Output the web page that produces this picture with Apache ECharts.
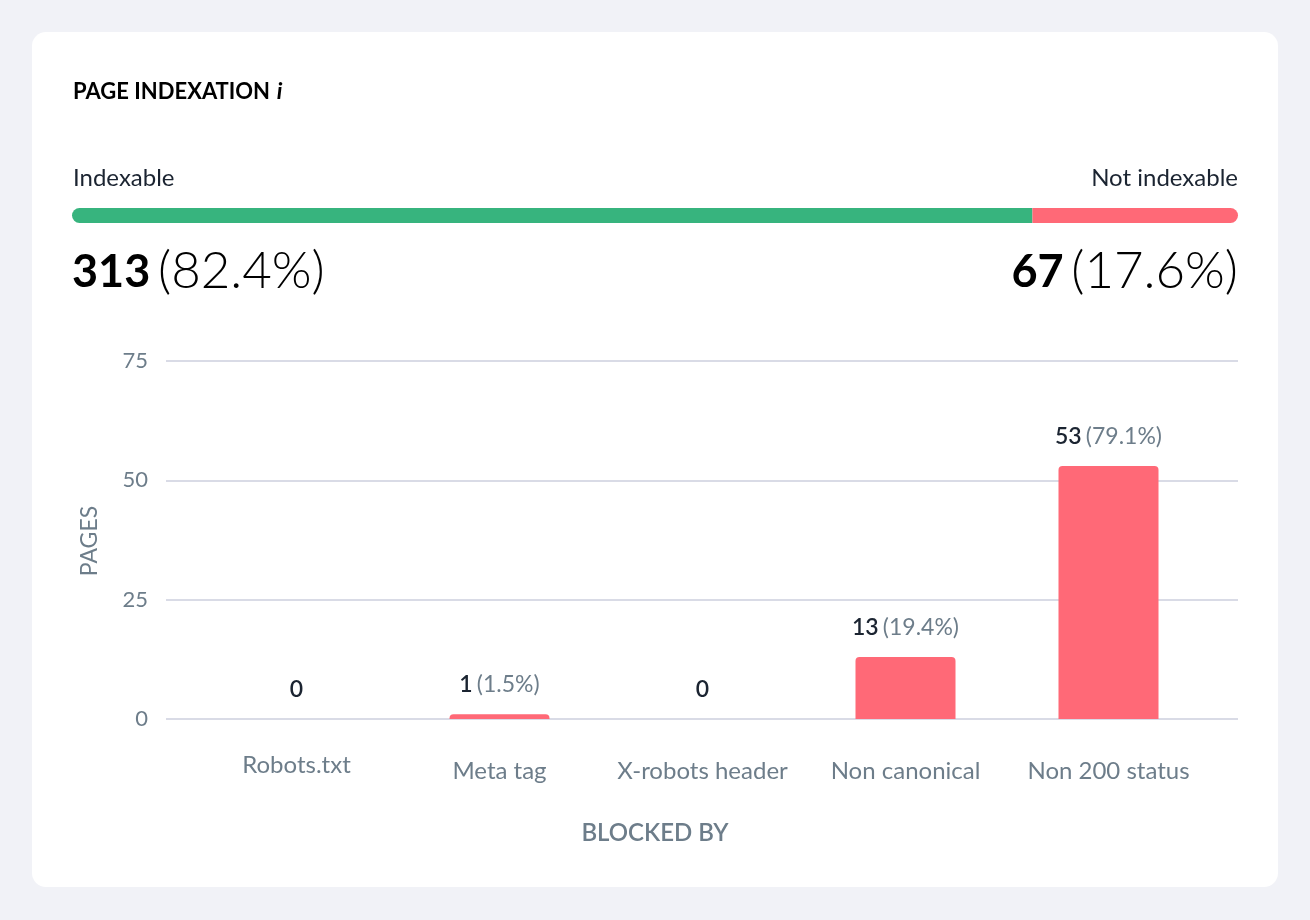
<!DOCTYPE html>
<html>
<head>
<meta charset="utf-8">
<script src="https://cdn.jsdelivr.net/npm/echarts@6/dist/echarts.min.js"></script>
<style>
html,body{margin:0;padding:0;background:#f1f2f7;}
#c{width:1310px;height:920px;}
</style>
</head>
<body>
<div id="c"></div>
<script>
// ---- data ----
const title = 'PAGE INDEXATION';
const indexLabels = ['Indexable', 'Not indexable'];
const indexCounts = [313, 67];
const categories = ['Robots.txt', 'Meta tag', 'X-robots header', 'Non canonical', 'Non 200 status'];
const blockedCounts = [0, 1, 0, 13, 53];
const yTicks = [0, 25, 50, 75];
const xAxisName = 'BLOCKED BY';
const yAxisName = 'PAGES';

// ---- styles ----
const FONT = 'Lato';
const DARK = '#1b2431';
const GRAY = '#6d7d8a';
const GREEN = '#37b47e';
const RED = '#ff6977';
const GRID = '#d9dbe6';

const total = indexCounts[0] + indexCounts[1];
const pct = v => (v / total * 100).toFixed(1) + '%';
const notIdx = indexCounts[1];

const chart = echarts.init(document.getElementById('c'), null, {renderer: 'canvas'});

const bigRich = {
  a: {fontFamily: FONT, fontWeight: 'bold', fontSize: 45, color: DARK},
  s: {fontFamily: FONT, fontSize: 30},
  b: {fontFamily: FONT, fontWeight: 300, fontSize: 51, color: GRAY}
};

const option = {
  backgroundColor: '#f1f2f7',
  animation: false,
  graphic: [
    {type: 'rect', shape: {x: 32, y: 32, width: 1246, height: 855, r: 14}, style: {fill: '#fff'}, z: -10},
    {type: 'text', x: 73, y: 92, style: {
      text: '{t|' + title + '}{s| }{i|i}', verticalAlign: 'middle',
      rich: {t: {fontFamily: FONT, fontWeight: 'bold', fontSize: 22, color: DARK},
             s: {fontFamily: FONT, fontSize: 26},
             i: {fontFamily: FONT, fontWeight: 'bold', fontStyle: 'italic', fontSize: 23, color: DARK}}
    }},
    {type: 'text', x: 73, y: 178, style: {text: indexLabels[0], fontFamily: FONT, fontSize: 24, fill: DARK, verticalAlign: 'middle'}},
    {type: 'text', x: 1238, y: 178, style: {text: indexLabels[1], fontFamily: FONT, fontSize: 24, fill: DARK, align: 'right', verticalAlign: 'middle'}},
    {type: 'text', x: 72, y: 272, style: {text: '{a|' + indexCounts[0] + '}{s| }{b|(' + pct(indexCounts[0]) + ')}', verticalAlign: 'middle', rich: bigRich}},
    {type: 'text', x: 1238, y: 272, style: {text: '{a|' + indexCounts[1] + '}{s| }{b|(' + pct(indexCounts[1]) + ')}', align: 'right', verticalAlign: 'middle', rich: bigRich}},
    {type: 'text', x: 90, y: 541, rotation: Math.PI / 2, style: {text: yAxisName, fontFamily: FONT, fontSize: 23, fill: GRAY, align: 'center', verticalAlign: 'middle'}},
    {type: 'text', x: 655, y: 833, style: {text: xAxisName, fontFamily: FONT, fontWeight: 600, fontSize: 24, fill: GRAY, align: 'center', verticalAlign: 'middle'}}
  ],
  grid: [
    {left: 72, width: 1166, top: 208, height: 15},
    {left: 166, width: 1072, top: 361, height: 358},
    {left: 195, width: 1015, top: 361, height: 358}
  ],
  xAxis: [
    {gridIndex: 0, type: 'value', min: 0, max: total, show: false},
    {gridIndex: 1, type: 'value', show: false, min: 0, max: 1},
    {gridIndex: 2, type: 'category', data: categories.map((c, i) => i === 0 ? {value: c, textStyle: {padding: [0, 0, 0, 0]}} : c),
      axisLine: {show: false}, axisTick: {show: false},
      axisLabel: {fontFamily: FONT, fontSize: 24, color: GRAY, margin: 34, padding: [6, 0, 0, 0], interval: 0}}
  ],
  yAxis: [
    {gridIndex: 0, type: 'category', data: ['x'], show: false},
    {gridIndex: 1, type: 'value', min: yTicks[0], max: yTicks[yTicks.length - 1], interval: yTicks[1] - yTicks[0],
      axisLine: {show: false}, axisTick: {show: false},
      axisLabel: {fontFamily: FONT, fontSize: 22, color: GRAY, margin: 18},
      splitLine: {lineStyle: {color: GRID, width: 2}}},
    {gridIndex: 2, type: 'value', min: yTicks[0], max: yTicks[yTicks.length - 1], show: false, splitLine: {show: false}}
  ],
  series: [
    {type: 'bar', xAxisIndex: 0, yAxisIndex: 0, stack: 'idx', barWidth: 15, data: [indexCounts[0]],
      itemStyle: {color: GREEN, borderRadius: [7.5, 0, 0, 7.5]}, silent: true},
    {type: 'bar', xAxisIndex: 0, yAxisIndex: 0, stack: 'idx', barWidth: 15, data: [indexCounts[1]],
      itemStyle: {color: RED, borderRadius: [0, 7.5, 7.5, 0]}, silent: true},
    {type: 'bar', xAxisIndex: 2, yAxisIndex: 2, barWidth: 100, data: blockedCounts,
      itemStyle: {color: RED, borderRadius: [4, 4, 0, 0]},
      label: {show: true, position: 'top', distance: 18,
        formatter: p => p.value === 0 ? '{v|0}' : '{v|' + p.value + '}{s| }{p|(' + (p.value / notIdx * 100).toFixed(1) + '%)}',
        rich: {v: {fontFamily: FONT, fontWeight: 600, fontSize: 23, color: DARK},
               s: {fontFamily: FONT, fontSize: 16},
               p: {fontFamily: FONT, fontSize: 23, color: GRAY}}}}
  ]
};
chart.setOption(option);
</script>
</body>
</html>
